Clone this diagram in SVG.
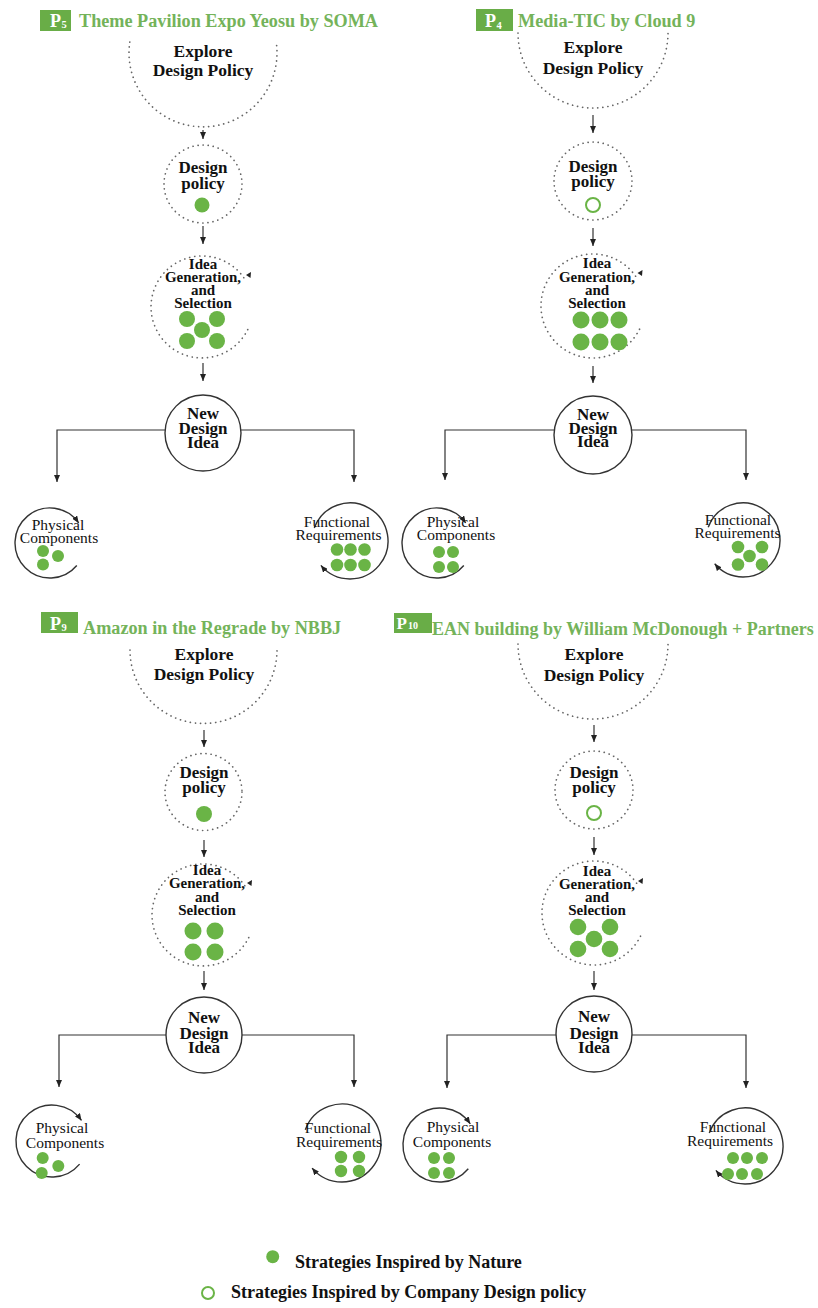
<svg xmlns="http://www.w3.org/2000/svg" width="818" height="1308" viewBox="0 0 818 1308">
<defs>
<marker id="ah" markerWidth="8" markerHeight="6" refX="7" refY="3" orient="auto" markerUnits="userSpaceOnUse"><path d="M0,0 L7,3 L0,6 z" fill="#222"/></marker>
<style>
.hdr{fill:#69ad47}
.ttl{font-family:"Liberation Serif",serif;font-weight:bold;font-size:18.2px;fill:#74b35a}
.pl{font-family:"Liberation Serif",serif;font-weight:bold;fill:#fff}
.b{font-family:"Liberation Serif",serif;font-weight:bold;fill:#111;text-anchor:middle}
.ex{font-size:17.5px}
.dp{font-size:17px}
.id{font-size:15px}
.nd{font-size:17px}
.r{font-family:"Liberation Serif",serif;fill:#111;text-anchor:middle;font-size:15.5px}
.lg{font-family:"Liberation Serif",serif;font-weight:bold;fill:#111;font-size:18px}
.dot{stroke:#666;stroke-width:1.7;fill:none;stroke-dasharray:0.1 5;stroke-linecap:round}
.solid{stroke:#333;stroke-width:1.4;fill:none}
.conn{stroke:#333;stroke-width:1.2;fill:none}
.g{fill:#6ab446}
.h{fill:none;stroke:#6ab446;stroke-width:2}
.tri{fill:#222}
</style>
</defs>
<rect width="818" height="1308" fill="#fff"/>

<!-- ================= Panel P5 ================= -->
<g id="p5-header">
<rect class="hdr" x="40" y="10" width="31" height="21"/>
<text class="pl" x="50" y="27" font-size="18">P</text>
<text class="pl" x="61.5" y="28" font-size="10.5">5</text>
<text class="ttl" x="79" y="27">Theme Pavilion Expo Yeosu by SOMA</text>
</g>
<g id="p5-explore">
<path class="dot" d="M129.8,42 A74,74 0 1 0 276.2,42"/>
<text class="b ex" x="203" y="57">Explore</text>
<text class="b ex" x="203" y="76">Design Policy</text>
</g>
<g id="p5-policy">
<circle class="dot" cx="203" cy="184" r="39"/>
<text class="b dp" x="203" y="173">Design</text>
<text class="b dp" x="203" y="189">policy</text>
<circle class="g" cx="202" cy="205" r="7.5"/>
</g>
<g id="p5-idea">
<path class="dot" d="M243.8,277.7 A51,51 0 1 0 248.2,328.6"/>
<polygon class="tri" points="246,275 251,272 250.5,278"/>
<text class="b id" x="203" y="269">Idea</text>
<text class="b id" x="203" y="282">Generation,</text>
<text class="b id" x="203" y="294.5">and</text>
<text class="b id" x="203" y="307.5">Selection</text>
<circle class="g" cx="187" cy="319" r="8"/>
<circle class="g" cx="217" cy="319" r="8"/>
<circle class="g" cx="202" cy="330" r="8"/>
<circle class="g" cx="187" cy="341" r="8"/>
<circle class="g" cx="217" cy="341" r="8"/>
</g>
<g id="p5-new">
<circle class="solid" cx="203" cy="433" r="38"/>
<text class="b nd" x="203" y="419">New</text>
<text class="b nd" x="203" y="434">Design</text>
<text class="b nd" x="203" y="448">Idea</text>
</g>
<g id="p5-physical">
<path class="solid" d="M76.8,565.5 A35,35 0 1 1 78.7,522.9" marker-end="url(#ah)"/>
<text class="r" x="58" y="529.5">Physical</text>
<text class="r" x="59" y="542.5">Components</text>
<circle class="g" cx="43" cy="551" r="6"/>
<circle class="g" cx="58" cy="556" r="6"/>
<circle class="g" cx="43" cy="564.5" r="6"/>
</g>
<g id="p5-functional">
<path class="solid" d="M314.3,528 A38,38 0 1 1 320.9,565.4" marker-end="url(#ah)"/>
<text class="r" x="337" y="526.5">Functional</text>
<text class="r" x="338.5" y="539.5">Requirements</text>
<circle class="g" cx="337" cy="549.5" r="6.3"/>
<circle class="g" cx="350.5" cy="549.5" r="6.3"/>
<circle class="g" cx="364.5" cy="549.5" r="6.3"/>
<circle class="g" cx="337" cy="565" r="6.3"/>
<circle class="g" cx="350.5" cy="565" r="6.3"/>
<circle class="g" cx="364.5" cy="565" r="6.3"/>
</g>

<!-- ================= Panel P4 ================= -->
<g id="p4-header">
<rect class="hdr" x="476" y="9" width="37" height="22"/>
<text class="pl" x="485" y="27" font-size="18">P</text>
<text class="pl" x="496.5" y="29" font-size="10.5">4</text>
<text class="ttl" x="518" y="27">Media-TIC by Cloud 9</text>
</g>
<g id="p4-explore">
<path class="dot" d="M518,33 A75,75 0 1 0 668,33"/>
<text class="b ex" x="593" y="53">Explore</text>
<text class="b ex" x="593" y="74">Design Policy</text>
</g>
<g id="p4-policy">
<circle class="dot" cx="593" cy="181" r="39"/>
<text class="b dp" x="593" y="172">Design</text>
<text class="b dp" x="593" y="187">policy</text>
<circle class="h" cx="593" cy="205" r="7"/>
</g>
<g id="p4-idea">
<path class="dot" d="M635.6,276.2 A52,52 0 1 0 640.1,328"/>
<polygon class="tri" points="637.5,273 642.5,270 642,276"/>
<text class="b id" x="597" y="268">Idea</text>
<text class="b id" x="597" y="282">Generation,</text>
<text class="b id" x="597" y="295">and</text>
<text class="b id" x="597" y="308">Selection</text>
<circle class="g" cx="581" cy="320" r="8.5"/>
<circle class="g" cx="600" cy="320" r="8.5"/>
<circle class="g" cx="619" cy="320" r="8.5"/>
<circle class="g" cx="581" cy="342" r="8.5"/>
<circle class="g" cx="600" cy="342" r="8.5"/>
<circle class="g" cx="619" cy="342" r="8.5"/>
</g>
<g id="p4-new">
<circle class="solid" cx="593" cy="435" r="39"/>
<text class="b nd" x="593" y="420">New</text>
<text class="b nd" x="593" y="434">Design</text>
<text class="b nd" x="593" y="447">Idea</text>
</g>
<g id="p4-physical">
<path class="solid" d="M463.8,565.5 A35,35 0 1 1 465.7,522.9" marker-end="url(#ah)"/>
<text class="r" x="453" y="526.5">Physical</text>
<text class="r" x="456" y="540">Components</text>
<circle class="g" cx="439" cy="552" r="6"/>
<circle class="g" cx="453" cy="552" r="6"/>
<circle class="g" cx="439" cy="567" r="6"/>
<circle class="g" cx="453" cy="567" r="6"/>
</g>
<g id="p4-functional">
<path class="solid" d="M708.2,527.3 A37,37 0 1 1 714.7,563.8" marker-end="url(#ah)"/>
<text class="r" x="738" y="524.5">Functional</text>
<text class="r" x="737.5" y="538">Requirements</text>
<circle class="g" cx="738" cy="547" r="6.3"/>
<circle class="g" cx="762" cy="547" r="6.3"/>
<circle class="g" cx="749.5" cy="556" r="6.3"/>
<circle class="g" cx="738" cy="564.5" r="6.3"/>
<circle class="g" cx="762" cy="564.5" r="6.3"/>
</g>

<!-- ================= Panel P9 ================= -->
<g id="p9-header">
<rect class="hdr" x="41" y="612" width="37" height="21"/>
<text class="pl" x="50" y="630" font-size="18">P</text>
<text class="pl" x="61.5" y="631" font-size="10.5">9</text>
<text class="ttl" x="83" y="634">Amazon in the Regrade by NBBJ</text>
</g>
<g id="p9-explore">
<path class="dot" d="M130,650 A73.5,73.5 0 1 0 277,650"/>
<text class="b ex" x="204" y="660">Explore</text>
<text class="b ex" x="204" y="680">Design Policy</text>
</g>
<g id="p9-policy">
<circle class="dot" cx="203.5" cy="792" r="38.5"/>
<text class="b dp" x="204" y="778">Design</text>
<text class="b dp" x="204" y="793">policy</text>
<circle class="g" cx="204" cy="814" r="8"/>
</g>
<g id="p9-idea">
<path class="dot" d="M244.8,885.7 A51,51 0 1 0 249.2,936.6"/>
<polygon class="tri" points="247,883 252,880 251.5,886"/>
<text class="b id" x="207" y="875">Idea</text>
<text class="b id" x="207" y="888">Generation,</text>
<text class="b id" x="207" y="902">and</text>
<text class="b id" x="207" y="915">Selection</text>
<circle class="g" cx="193" cy="931" r="8.5"/>
<circle class="g" cx="215" cy="931" r="8.5"/>
<circle class="g" cx="193" cy="952" r="8.5"/>
<circle class="g" cx="215" cy="952" r="8.5"/>
</g>
<g id="p9-new">
<circle class="solid" cx="204" cy="1035" r="38"/>
<text class="b nd" x="204" y="1023">New</text>
<text class="b nd" x="204" y="1039">Design</text>
<text class="b nd" x="204" y="1053">Idea</text>
</g>
<g id="p9-physical">
<path class="solid" d="M79.6,1164.1 A36,36 0 1 1 81.5,1120.4" marker-end="url(#ah)"/>
<text class="r" x="62" y="1133">Physical</text>
<text class="r" x="65" y="1148">Components</text>
<circle class="g" cx="42.7" cy="1158" r="6"/>
<circle class="g" cx="58.3" cy="1166" r="6"/>
<circle class="g" cx="41.7" cy="1173" r="6"/>
</g>
<g id="p9-functional">
<path class="solid" d="M305.3,1129.7 A39,39 0 1 1 312.1,1168.1" marker-end="url(#ah)"/>
<text class="r" x="338" y="1133">Functional</text>
<text class="r" x="339" y="1147">Requirements</text>
<circle class="g" cx="341" cy="1157" r="6.2"/>
<circle class="g" cx="359" cy="1157" r="6.2"/>
<circle class="g" cx="341" cy="1171" r="6.2"/>
<circle class="g" cx="359" cy="1171" r="6.2"/>
</g>

<!-- ================= Panel P10 ================= -->
<g id="p10-header">
<rect class="hdr" x="394" y="613" width="38" height="20"/>
<text class="pl" x="396.5" y="629" font-size="17">P</text>
<text class="pl" x="408" y="629" font-size="10">10</text>
<text class="ttl" x="432" y="635" style="font-size:18px">EAN building by William McDonough + Partners</text>
</g>
<g id="p10-explore">
<path class="dot" d="M518,644 A75,75 0 1 0 668,644"/>
<text class="b ex" x="594" y="660">Explore</text>
<text class="b ex" x="594" y="681">Design Policy</text>
</g>
<g id="p10-policy">
<circle class="dot" cx="594" cy="790" r="39"/>
<text class="b dp" x="594" y="778">Design</text>
<text class="b dp" x="594" y="793">policy</text>
<circle class="h" cx="594" cy="813" r="7"/>
</g>
<g id="p10-idea">
<path class="dot" d="M636.6,883.2 A52,52 0 1 0 641.1,935"/>
<polygon class="tri" points="638,881 643,878 642.5,884"/>
<text class="b id" x="597" y="876">Idea</text>
<text class="b id" x="597" y="889">Generation,</text>
<text class="b id" x="597" y="902">and</text>
<text class="b id" x="597" y="915">Selection</text>
<circle class="g" cx="578" cy="927" r="8.3"/>
<circle class="g" cx="610" cy="927" r="8.3"/>
<circle class="g" cx="594" cy="939" r="8.3"/>
<circle class="g" cx="578" cy="949" r="8.3"/>
<circle class="g" cx="610" cy="949" r="8.3"/>
</g>
<g id="p10-new">
<circle class="solid" cx="594" cy="1034" r="38"/>
<text class="b nd" x="594" y="1022">New</text>
<text class="b nd" x="594" y="1039">Design</text>
<text class="b nd" x="594" y="1053">Idea</text>
</g>
<g id="p10-physical">
<path class="solid" d="M468.3,1168.8 A37,37 0 1 1 470.3,1123.8" marker-end="url(#ah)"/>
<text class="r" x="453" y="1132">Physical</text>
<text class="r" x="452" y="1147">Components</text>
<circle class="g" cx="434" cy="1158" r="6"/>
<circle class="g" cx="449" cy="1158" r="6"/>
<circle class="g" cx="434" cy="1173" r="6"/>
<circle class="g" cx="449" cy="1173" r="6"/>
</g>
<g id="p10-functional">
<path class="solid" d="M709.3,1133 A38,38 0 1 1 715.9,1170.4" marker-end="url(#ah)"/>
<text class="r" x="733" y="1132">Functional</text>
<text class="r" x="730" y="1145.5">Requirements</text>
<circle class="g" cx="733" cy="1158" r="6"/>
<circle class="g" cx="747" cy="1158" r="6"/>
<circle class="g" cx="762" cy="1158" r="6"/>
<circle class="g" cx="728" cy="1174" r="6"/>
<circle class="g" cx="742" cy="1174" r="6"/>
<circle class="g" cx="757" cy="1174" r="6"/>
</g>

<!-- ================= Connectors ================= -->
<g id="connectors" class="conn">
<path d="M203,130 V139" marker-end="url(#ah)"/>
<path d="M203,226 V244" marker-end="url(#ah)"/>
<path d="M203,363 V381" marker-end="url(#ah)"/>
<path d="M165,430 H57 V482" marker-end="url(#ah)"/>
<path d="M241,430 H354 V482" marker-end="url(#ah)"/>

<path d="M593,115 V133" marker-end="url(#ah)"/>
<path d="M593,228 V246" marker-end="url(#ah)"/>
<path d="M593,366 V383" marker-end="url(#ah)"/>
<path d="M554.5,430 H445 V480" marker-end="url(#ah)"/>
<path d="M631.5,430 H746 V480" marker-end="url(#ah)"/>

<path d="M204,730 V747" marker-end="url(#ah)"/>
<path d="M204,840 V857" marker-end="url(#ah)"/>
<path d="M204,971 V990" marker-end="url(#ah)"/>
<path d="M166,1035 H59 V1087" marker-end="url(#ah)"/>
<path d="M242,1035 H354 V1087" marker-end="url(#ah)"/>

<path d="M594,725 V742" marker-end="url(#ah)"/>
<path d="M594,837 V855" marker-end="url(#ah)"/>
<path d="M594,971 V990" marker-end="url(#ah)"/>
<path d="M556,1035 H447 V1088" marker-end="url(#ah)"/>
<path d="M632,1035 H746 V1088" marker-end="url(#ah)"/>
</g>

<!-- ================= Legend ================= -->
<g id="legend">
<circle class="g" cx="272.7" cy="1256.7" r="6.5"/>
<text class="lg" x="295" y="1268">Strategies Inspired by Nature</text>
<circle class="h" cx="208" cy="1293" r="6"/>
<text class="lg" x="231" y="1298">Strategies Inspired by Company Design policy</text>
</g>
</svg>
